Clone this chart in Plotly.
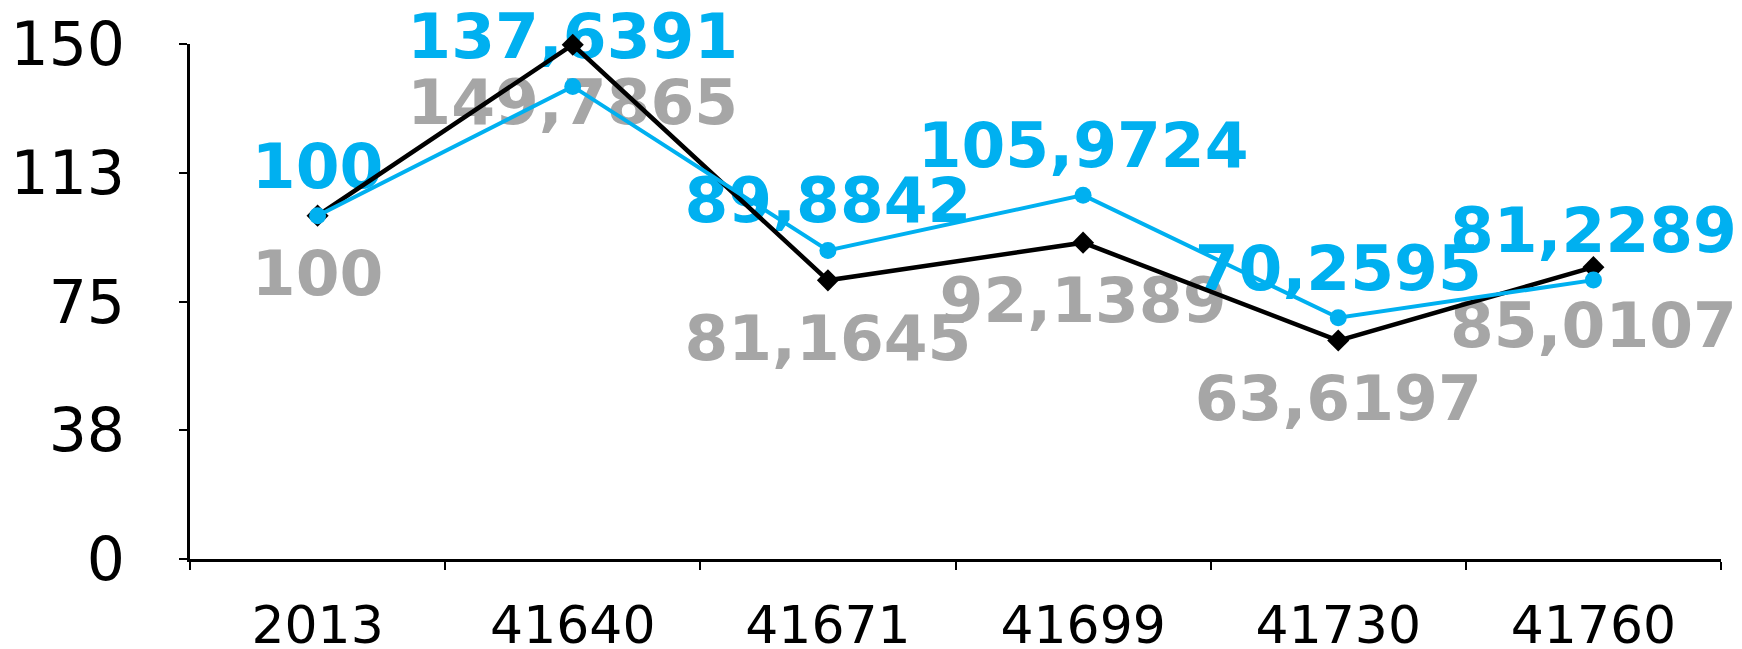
import plotly.graph_objects as go

categories = ["2013", "41640", "41671", "41699", "41730", "41760"]
black_values = [100, 149.7865, 81.1645, 92.1389, 63.6197, 85.0107]
blue_values = [100, 137.6391, 89.8842, 105.9724, 70.2595, 81.2289]
black_labels = ["100", "149,7865", "81,1645", "92,1389", "63,6197", "85,0107"]
blue_labels = ["100", "137,6391", "89,8842", "105,9724", "70,2595", "81,2289"]
y_tickvals = [0, 37.5, 75, 112.5, 150]
y_ticktext = ["0", "38", "75", "113", "150"]

BLUE = "#00B0F0"
GREY = "#A6A6A6"
FONT = "DejaVu Sans, Verdana, sans-serif"
CLEAR = "rgba(0,0,0,0)"

fig = go.Figure()

# Beschriftungen zuerst, damit die Linien darüber liegen.
# Unsichtbare Marker steuern den Abstand der Texte zum Punkt.
fig.add_trace(go.Scatter(
    x=categories,
    y=black_values,
    mode="markers+text",
    marker=dict(size=50, color=CLEAR),
    text=black_labels,
    textposition="bottom center",
    textfont=dict(family=FONT, size=63, color=GREY, weight="bold"),
    hoverinfo="skip",
    showlegend=False,
    cliponaxis=False,
))

fig.add_trace(go.Scatter(
    x=categories,
    y=blue_values,
    mode="markers+text",
    marker=dict(size=18, color=CLEAR),
    text=blue_labels,
    textposition="top center",
    textfont=dict(family=FONT, size=63, color=BLUE, weight="bold"),
    hoverinfo="skip",
    showlegend=False,
    cliponaxis=False,
))

fig.add_trace(go.Scatter(
    x=categories,
    y=black_values,
    mode="lines+markers",
    line=dict(color="black", width=4.5),
    marker=dict(symbol="diamond", size=17, color="black"),
    showlegend=False,
    cliponaxis=False,
))

fig.add_trace(go.Scatter(
    x=categories,
    y=blue_values,
    mode="lines+markers",
    line=dict(color=BLUE, width=4),
    marker=dict(symbol="circle", size=17, color=BLUE),
    showlegend=False,
    cliponaxis=False,
))

fig.update_layout(
    width=1742,
    height=649,
    margin=dict(l=190, r=21, t=44, b=90),
    paper_bgcolor="white",
    plot_bgcolor="white",
    font=dict(family=FONT, color="black"),
    xaxis=dict(
        type="category",
        automargin=False,
        showline=True,
        linecolor="black",
        linewidth=3,
        ticks="outside",
        tickson="boundaries",
        ticklen=8,
        tickwidth=2,
        tickcolor="black",
        tickfont=dict(size=52, family=FONT),
        ticklabelstandoff=19,
        showgrid=False,
        zeroline=False,
        range=[-0.5, 5.5],
    ),
    yaxis=dict(
        range=[0, 150],
        automargin=False,
        tickvals=y_tickvals,
        ticktext=y_ticktext,
        showline=True,
        linecolor="black",
        linewidth=3,
        ticks="outside",
        ticklen=8,
        tickwidth=2,
        tickcolor="black",
        tickfont=dict(size=60, family=FONT),
        ticklabelstandoff=42,
        showgrid=False,
        zeroline=False,
    ),
)

fig.write_html(
    "out.html",
    config={"displayModeBar": False},
    post_script="document.body.style.margin='0';",
)
